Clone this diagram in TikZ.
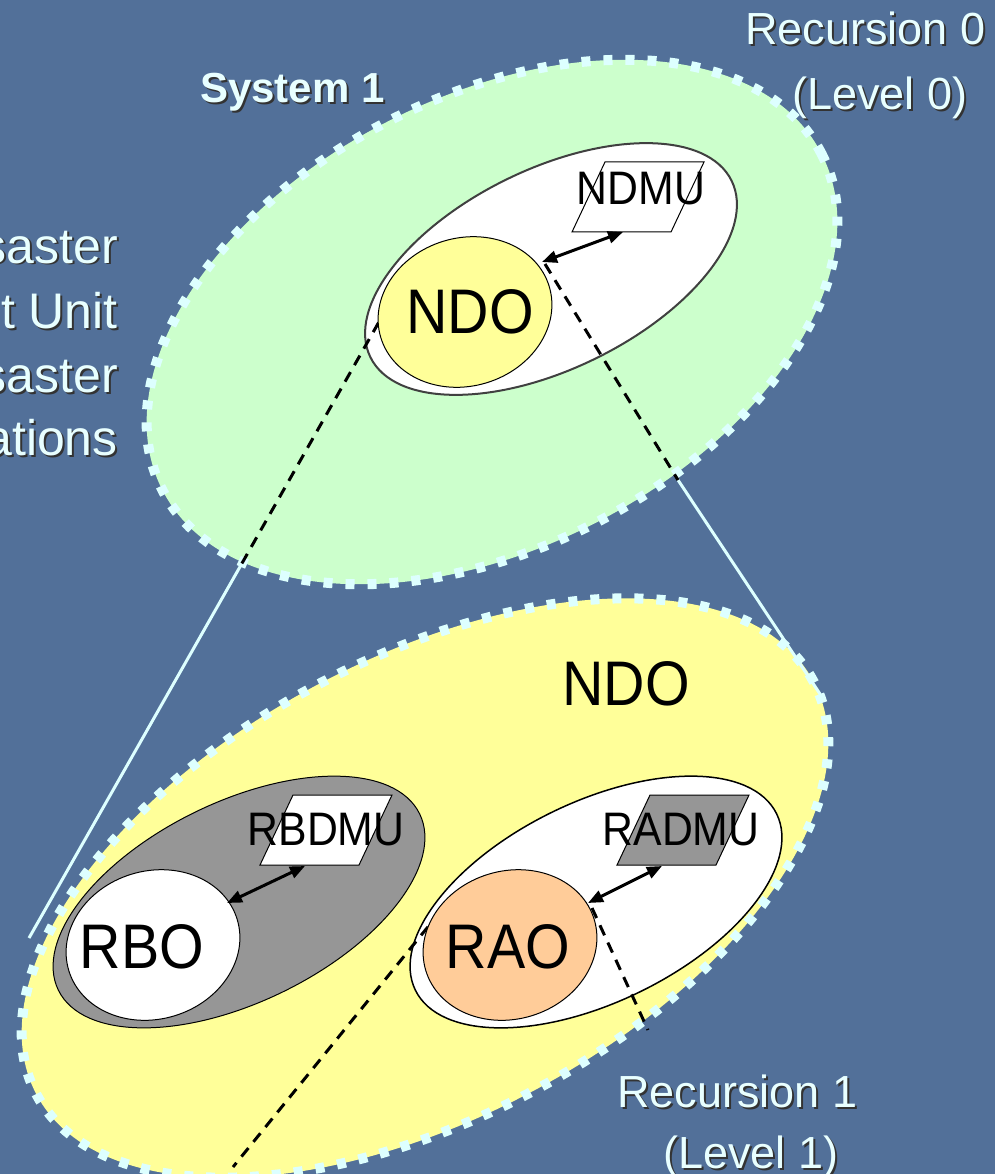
\documentclass[tikz,border=0pt]{standalone}
\usepackage{fontspec}
\setmainfont{Liberation Sans}
\newfontfamily\narrowf{Liberation Sans}[FakeStretch=0.91]
\usetikzlibrary{shapes.geometric,arrows.meta}
\definecolor{bgblue}{RGB}{82,112,153}
\definecolor{sysgreen}{RGB}{204,255,204}
\definecolor{ndoyel}{RGB}{255,255,153}
\definecolor{dotcol}{RGB}{221,255,255}
\definecolor{peach}{RGB}{255,204,153}
\definecolor{midgray}{RGB}{150,150,150}
\definecolor{labcol}{RGB}{232,255,255}
\begin{document}
\begin{tikzpicture}[x=1pt,y=1pt,
  bigell/.style={ellipse, inner sep=0pt, outer sep=0pt, draw=dotcol, line width=10pt, dash pattern=on 9pt off 13pt},
  cont/.style={ellipse, inner sep=0pt, outer sep=0pt, minimum width=402pt, minimum height=200pt, rotate=26},
  inell/.style={ellipse, inner sep=0pt, outer sep=0pt, minimum width=176pt, minimum height=148pt, rotate=17, draw=black, line width=1pt},
  dmubox/.style={draw=black, line width=1pt},
  dmutxt/.style={font=\narrowf\fontsize{47}{50}\selectfont, inner sep=0pt},
  bigtxt/.style={font=\narrowf\fontsize{63}{66}\selectfont, inner sep=0pt},
  lab/.style={font=\fontsize{45}{50}\selectfont, text=labcol, inner sep=0pt, anchor=base west},
  labsh/.style={lab, text=black!80},
  sidelab/.style={font=\fontsize{50}{54}\selectfont, text=labcol, inner sep=0pt, anchor=base east},
  sidesh/.style={sidelab, text=black!80},
  biarrow/.style={{Triangle[length=15pt,width=12pt]}-{Triangle[length=15pt,width=12pt]}, line width=3pt},
  dashline/.style={line width=3pt, dash pattern=on 11pt off 8pt},
  whiteline/.style={draw=dotcol, line width=3pt}
]
\fill[bgblue] (0,0) rectangle (995,-1174);
\useasboundingbox (0,0) rectangle (995,-1174);

% side text (cut off at the left edge, as in the reference)
\node[sidesh] (s1s) at (120,-265) {saster};
\node[sidelab] (s1) at (118,-263) {saster};
\node[sidesh] (s2s) at (120,-330) {t Unit};
\node[sidelab] (s2) at (118,-328) {t Unit};
\node[sidesh] (s3s) at (120,-394) {saster};
\node[sidelab] (s3) at (118,-392) {saster};
\node[sidesh] (s4s) at (120,-457) {ations};
\node[sidelab] (s4) at (118,-455) {ations};

% big ellipses
\node[bigell, fill=sysgreen, minimum width=740pt, minimum height=452pt, rotate=27] (sys) at (492,-322) {};
\node[bigell, fill=ndoyel, minimum width=880pt, minimum height=460pt, rotate=28] (ndobig) at (425,-888) {};

% connecting lines
\coordinate (gL) at (241,-565);
\coordinate (gR) at (678,-480);
\coordinate (yL) at (29,-938);
\coordinate (yR) at (824,-700);
\draw[whiteline] (gL) -- (yL);
\draw[whiteline] (gR) -- (yR);

% containers
\node[cont, fill=white, draw=black!75, line width=2pt] (topc) at (551,-269) {};
\node[cont, fill=midgray, draw=black, line width=1pt] (rbc) at (239,-902) {};
\node[cont, fill=white, draw=black, line width=1.5pt] (rac) at (596,-902) {};

% dashed projection lines
\coordinate (tdL) at (388,-306);
\coordinate (tdR) at (545,-264);
\coordinate (bdL) at (440,-912);
\coordinate (bdR) at (592,-908);
\coordinate (ybL) at (233,-1167);
\coordinate (ybR) at (648,-1030);
\draw[dashline] (tdL) -- (gL);
\draw[dashline] (tdR) -- (gR);
\draw[dashline] (bdL) -- (ybL);
\draw[dashline] (bdR) -- (ybR);

% top group (Level 0)
\begin{scope}[shift={(551,-269)}]
  \node[inell, fill=ndoyel] (ndo) at (-86,-43) {};
  \node[bigtxt] (ndot) at (-81,-43) {NDO};
  \draw[dmubox, fill=white] (21,37) -- (120,37) -- (153,107) -- (54,107) -- cycle;
  \node[dmutxt] (ndmu) at (90,80) {NDMU};
  \coordinate (ndoE) at (-9,7);
  \coordinate (ndmuB) at (72,37);
  \draw[biarrow] (ndoE) -- (ndmuB);
\end{scope}

% bottom-left group
\begin{scope}[shift={(239,-902)}]
  \node[inell, fill=white] (rbo) at (-86,-43) {};
  \node[bigtxt] (rbot) at (-97,-45) {RBO};
  \draw[dmubox, fill=white] (21,37) -- (120,37) -- (153,107) -- (54,107) -- cycle;
  \node[dmutxt] (rbdmu) at (87,72) {RBDMU};
  \coordinate (rboE) at (-12,-1);
  \coordinate (rbdmuB) at (66,36);
  \draw[biarrow] (rboE) -- (rbdmuB);
\end{scope}

% bottom-right group
\begin{scope}[shift={(596,-902)}]
  \node[inell, fill=peach] (rao) at (-86,-43) {};
  \node[bigtxt] (raot) at (-88,-45) {RAO};
  \draw[dmubox, fill=midgray] (21,37) -- (120,37) -- (153,107) -- (54,107) -- cycle;
  \node[dmutxt] (radmu) at (85,72) {RADMU};
  \coordinate (raoE) at (-8,-1);
  \coordinate (radmuB) at (66,36);
  \draw[biarrow] (raoE) -- (radmuB);
\end{scope}

% big NDO label
\node[bigtxt] (ndolab) at (626,-684) {NDO};

% labels with shadow
\node[labsh, font=\bfseries\fontsize{42}{46}\selectfont] (sys1s) at (202,-105) {System 1};
\node[lab, font=\bfseries\fontsize{42}{46}\selectfont] (sys1) at (200,-103) {System 1};
\node[labsh] (rec0s) at (747,-47) {Recursion 0};
\node[lab] (rec0) at (745,-45) {Recursion 0};
\node[labsh] (lev0s) at (794,-112) {(Level 0)};
\node[lab] (lev0) at (792,-110) {(Level 0)};
\node[labsh] (rec1s) at (619,-1109) {Recursion 1};
\node[lab] (rec1) at (617,-1107) {Recursion 1};
\node[labsh] (lev1s) at (665,-1170) {(Level 1)};
\node[lab] (lev1) at (663,-1168) {(Level 1)};
\end{tikzpicture}
\end{document}
